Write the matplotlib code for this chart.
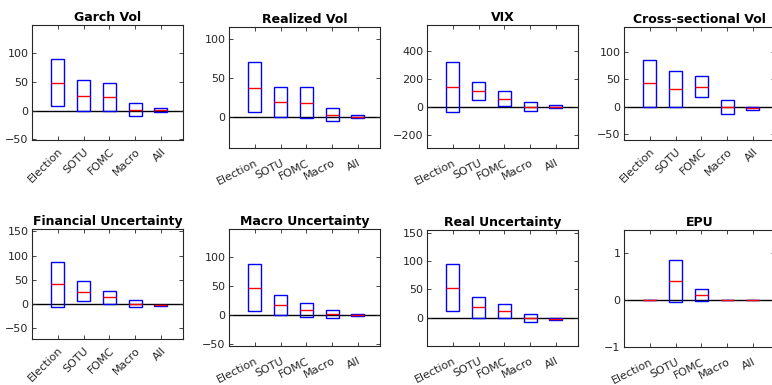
import matplotlib
matplotlib.use("Agg")
import matplotlib.pyplot as plt

plt.rcParams['font.family'] = ['DejaVu Sans']

categories = ["Election", "SOTU", "FOMC", "Macro", "All"]

titles = ["Garch Vol", "Realized Vol", "VIX", "Cross-sectional Vol",
          "Financial Uncertainty", "Macro Uncertainty", "Real Uncertainty", "EPU"]

# Lower edge, upper edge and median of each box, per panel
garch_low = [8, 0, 0, -10, -2]
garch_high = [89, 54, 48, 14, 4]
garch_mid = [48.5, 26, 23.5, 2, 1]

realized_low = [6.5, 0, -1, -4.7, -1]
realized_high = [70.5, 39, 39, 11.6, 3]
realized_mid = [38, 20, 19, 3, 1]

vix_low = [-36, 50, 10, -24, -5]
vix_high = [321, 176, 112, 40, 13]
vix_mid = [143, 112, 60, 5, 5]

xsec_low = [0, 0, 17.5, -12.7, -4.8]
xsec_high = [85, 64.5, 56.6, 12, 0]
xsec_mid = [42.8, 32, 37, 0, -2.5]

fin_low = [-5.5, 6, 0, -5.5, -3.5]
fin_high = [87, 47, 27.6, 8.3, -1]
fin_mid = [41.5, 26, 13.8, 1, -2]

macro_low = [5.7, 0, -4.6, -5, -2]
macro_high = [88, 34.5, 20.7, 7.5, 2]
macro_mid = [46.5, 16.7, 8, 1, 0]

real_low = [11.2, 0, -1, -7.7, -3.5]
real_high = [95.7, 37, 24.8, 5.9, -1]
real_mid = [53, 18.9, 12.4, -1, -2]

epu_low = [0, -0.043, -0.02, 0, 0]
epu_high = [0, 0.84, 0.22, 0, 0]
epu_mid = [0, 0.4, 0.1, 0, 0]

panels = [
    (garch_low, garch_high, garch_mid),
    (realized_low, realized_high, realized_mid),
    (vix_low, vix_high, vix_mid),
    (xsec_low, xsec_high, xsec_mid),
    (fin_low, fin_high, fin_mid),
    (macro_low, macro_high, macro_mid),
    (real_low, real_high, real_mid),
    (epu_low, epu_high, epu_mid),
]

ylims = [(-51, 149), (-39, 115.5), (-290, 585), (-60, 145),
         (-72, 155), (-54, 148), (-50, 155), (-1, 1.48)]
yticks = [[-50, 0, 50, 100], [0, 50, 100], [-200, 0, 200, 400], [-50, 0, 50, 100],
          [-50, 0, 50, 100, 150], [-50, 0, 50, 100], [0, 50, 100, 150], [-1, 0, 1]]
label_rot = [45, 27, 27, 45, 45, 27, 27, 27]

W, H = 772, 385
# axes rectangles in pixels: left, top, right, bottom
rects = [(32, 25, 183, 140), (229, 27, 380, 148), (427, 25, 578, 148), (624, 27, 775, 140),
         (32, 229, 183, 339), (229, 229, 380, 346), (427, 230, 578, 346), (624, 230, 775, 347)]

fig = plt.figure(figsize=(W / 100, H / 100), dpi=100)
grey = (0.15, 0.15, 0.15)
x = list(range(1, len(categories) + 1))
bw = 0.5

for i, (lo, hi, md) in enumerate(panels):
    l, t, r, b = rects[i]
    ax = fig.add_axes([l / W, 1 - b / H, (r - l) / W, (b - t) / H])
    ax.axhline(0, color='black', lw=1.0, zorder=1)
    heights = [h - a for a, h in zip(lo, hi)]
    ax.bar(x, heights, bottom=lo, width=bw, facecolor='none',
           edgecolor='#0000ff', linewidth=1.0, zorder=2)
    ax.hlines(md, [xi - bw / 2 for xi in x], [xi + bw / 2 for xi in x],
              colors='#ff0000', linewidth=1.0, zorder=3)
    ax.set_xlim(0, 5.86)
    ax.set_ylim(*ylims[i])
    ax.set_yticks(yticks[i])
    ax.set_xticks(x)
    ax.set_xticklabels(categories, rotation=label_rot[i], ha='right', va='top',
                       rotation_mode='anchor')
    ax.tick_params(direction='in', length=3, width=0.6, top=True, right=True,
                   labelsize=8, colors=grey, pad=2.5)
    ax.tick_params(axis='x', pad=4.5 if label_rot[i] == 45 else 7.0)
    for s in ax.spines.values():
        s.set_color(grey)
        s.set_linewidth(0.8)
    ax.set_title(titles[i], fontsize=9, fontweight='bold', pad=3)

fig.savefig("out.png", dpi=100)
